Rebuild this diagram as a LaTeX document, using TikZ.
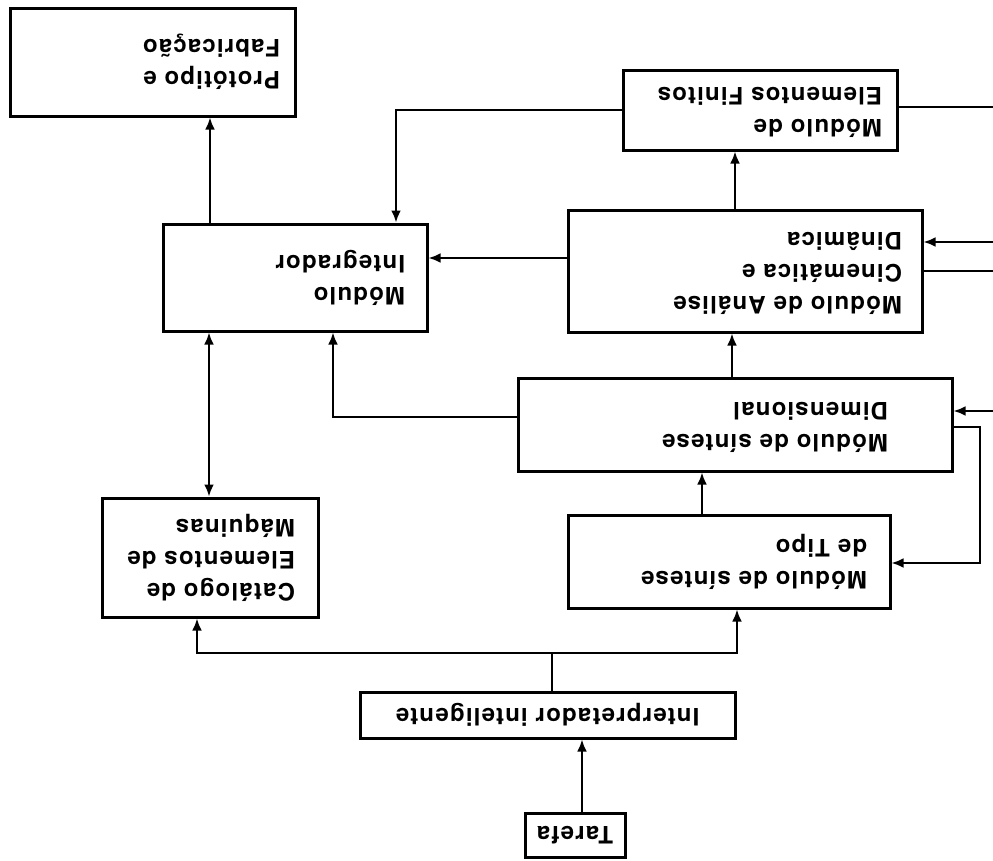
\documentclass[tikz,border=0pt]{standalone}
\usepackage{fontspec}
\setmainfont{TeX Gyre Heros}[LetterSpace=5]
\usetikzlibrary{arrows.meta}
\newcommand{\flipt}[2]{\rotatebox[origin=c]{180}{\makebox[#1][l]{\begin{tabular}{@{}l@{}}#2\end{tabular}}}}
\begin{document}
\begin{tikzpicture}[x=1pt,y=-1pt,
  box/.style={draw, line width=3pt, inner sep=0pt, font=\bfseries\fontsize{24}{32}\selectfont},
  conn/.style={line width=2.6pt},
  arr/.style={conn, -{Latex[length=12pt,width=10pt]}},
  darr/.style={conn, {Latex[length=12pt,width=10pt]}-{Latex[length=12pt,width=10pt]}}]
\useasboundingbox (0,0) rectangle (993,860);
% boxes
\node[box, minimum width=100, minimum height=44] (tar) at (575,835) {\rotatebox[origin=c]{180}{Tarefa}};
\node[box, minimum width=375, minimum height=46] (interp) at (547.5,715) {\rotatebox[origin=c]{180}{Interpretador inteligente}};
\node[box, minimum width=216, minimum height=119] (cat) at (210,557.5) {\flipt{170pt}{Catálogo de\\Elementos de\\Máquinas}};
\node[box, minimum width=322, minimum height=93] (tipo) at (729,561.5) {\flipt{276pt}{Módulo de síntese\\de Tipo}};
\node[box, minimum width=434, minimum height=93] (dim) at (735,424.5) {\flipt{306pt}{Módulo de síntese\\Dimensional}};
\node[box, minimum width=354, minimum height=122] (ana) at (745,271) {\flipt{314pt}{Módulo de Análise\\Cinemática e\\Dinâmica}};
\node[box, minimum width=274, minimum height=80] (fe) at (760,110) {\flipt{244pt}{Módulo de\\Elementos Finitos}};
\node[box, minimum width=264, minimum height=107] (int) at (295,277.5) {\flipt{220pt}{Módulo\\Integrador}};
\node[box, minimum width=285, minimum height=108] (proto) at (152.5,62) {\flipt{255pt}{Protótipo e\\Fabricação}};
% free ends
\coordinate (j1) at (552,653);
\coordinate (inDim) at (993,411);
\coordinate (inAna) at (993,242);
\coordinate (outAna) at (993,271);
\coordinate (outFe) at (993,107);
% connectors
\draw[arr] (582,0 |- tar.north) -- (582,0 |- interp.south);
\draw[conn] (552,0 |- interp.north) -- (j1);
\draw[arr] (j1) -- (197,653) -- (197,0 |- cat.south);
\draw[arr] (j1) -- (737,653) -- (737,0 |- tipo.south);
\draw[arr] (702,0 |- tipo.north) -- (702,0 |- dim.south);
\draw[arr] (732,0 |- dim.north) -- (732,0 |- ana.south);
\draw[arr] (735,0 |- ana.north) -- (735,0 |- fe.south);
\draw[arr] (ana.west |- 0,258) -- (int.east |- 0,258);
\draw[arr] (fe.west |- 0,110) -- (396,110) -- (396,0 |- int.north);
\draw[arr] (210,0 |- int.north) -- (210,0 |- proto.south);
\draw[darr] (209,0 |- cat.north) -- (209,0 |- int.south);
\draw[arr] (dim.west |- 0,417) -- (333,417) -- (333,0 |- int.south);
\draw[arr] (inDim) -- (dim.east |- inDim);
\draw[arr] (inAna) -- (ana.east |- inAna);
\draw[conn] (ana.east |- outAna) -- (outAna);
\draw[conn] (fe.east |- outFe) -- (outFe);
\draw[arr] (dim.east |- 0,427) -- (980,427) -- (980,563) -- (tipo.east |- 0,563);
\end{tikzpicture}
\end{document}
